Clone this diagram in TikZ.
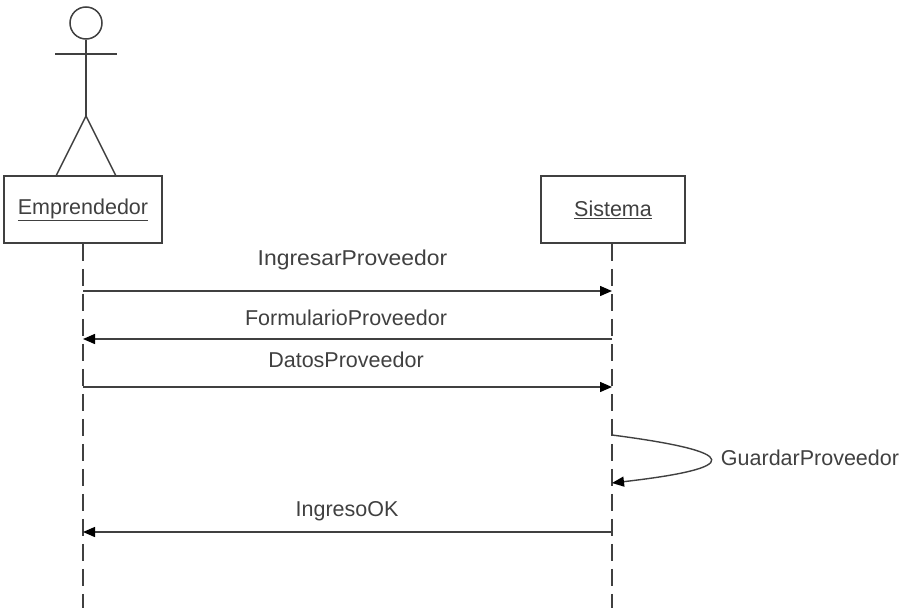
\documentclass[tikz,border=0pt]{standalone}
\usepackage{fontspec}
\setmainfont{Liberation Sans}
\usetikzlibrary{arrows.meta,positioning}

\begin{document}
\begin{tikzpicture}[x=1pt,y=-1pt,>={Triangle[length=12pt,width=10pt,black]},semithick,draw=black!75,text=black!75,
    font=\fontsize{21.5}{26}\selectfont,node distance=530pt]
  \tikzstyle{object}=[draw,line width=1.5pt,minimum height=67pt,inner sep=0pt]
  \tikzstyle{lifeline}=[dashed,dash pattern=on 17pt off 8pt,line width=1.5pt]
  \tikzstyle{message}=[->,line width=1.4pt,shorten >=0pt]
  \tikzstyle{actor}=[line width=1.5pt]

  \useasboundingbox (0,0) rectangle (901,608);

  \node[object,minimum width=158pt] (emprendedor) at (83,209.5) {\underline{Emprendedor}};
  \node[object,minimum width=144pt] (sistema) at (613,209.5) {\underline{Sistema}};

  % actor
  \node[draw,actor,circle,minimum size=32pt,inner sep=0pt] (head) at (86,23) {};
  \coordinate (crotch) at (86,116);
  \coordinate (armL) at (55,54);
  \coordinate (armR) at (117,54);
  \coordinate (footL) at (56,176);
  \coordinate (footR) at (116,176);
  \draw[actor] (head) -- (crotch);
  \draw[actor] (armL) -- (armR);
  \draw[actor] (footL) -- (crotch) -- (footR);

  % lifelines
  \coordinate (e0) at (83,608);
  \coordinate (s0) at (612,608);
  \draw[lifeline] (emprendedor.south -| e0) -- (e0);
  \draw[lifeline] (sistema.south -| s0) -- (s0);

  \coordinate (e1) at (83,291);
  \coordinate (s1) at (612,291);
  \coordinate (e2) at (83,339);
  \coordinate (s2) at (612,339);
  \coordinate (e3) at (83,387);
  \coordinate (s3) at (612,387);
  \coordinate (s4) at (612,435);
  \coordinate (s5) at (612,483);
  \coordinate (e6) at (83,532);
  \coordinate (s6) at (612,532);

  \draw[message] (e1) -- (s1);
  \draw[message] (s2) -- (e2);
  \draw[message] (e3) -- (s3);
  \draw[message] (s4) .. controls (743,452) and (743,468) .. (s5);
  \draw[message] (s6) -- (e6);

  \node (m1) at (352.5,260) {\scalebox{1.065}[1]{IngresarProveedor}};
  \node (m2) at (346,318) {FormularioProveedor};
  \node (m3) at (346,360) {DatosProveedor};
  \node (m4) at (810,458) {GuardarProveedor};
  \node (m5) at (347,511) {IngresoOK};
\end{tikzpicture}
\end{document}
